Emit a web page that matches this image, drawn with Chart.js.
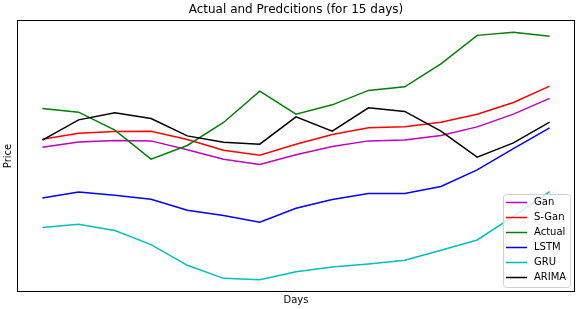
<!DOCTYPE html>
<html>
<head>
<meta charset="utf-8">
<script src="https://cdn.jsdelivr.net/npm/chart.js@4/dist/chart.umd.min.js"></script>
<style>
    html, body { margin: 0; padding: 0; background: #fff; }
    #wrap { width: 579px; height: 309px; }
</style>
</head>
<body>
<div id="wrap"><canvas id="chart" width="579" height="309"></canvas></div>
<script>
const days = [1, 2, 3, 4, 5, 6, 7, 8, 9, 10, 11, 12, 13, 14, 15];
const gan = [153, 158.3, 159.7, 159.3, 150.5, 141, 135.7, 145.5, 153.7, 159.3, 160.3, 164.7, 173.3, 186, 201.7];
const sGan = [161, 167, 168.7, 169, 160.7, 150, 145, 156, 165.7, 172.3, 173.3, 178, 186, 197.7, 214];
const actual = [191.7, 188, 170, 141, 154.7, 177.7, 209, 186, 195.3, 209.7, 213.3, 236.3, 264.7, 267.7, 263.7];
const lstm = [102.3, 108.3, 105, 101, 90, 84.7, 78, 92, 100.7, 106.7, 106.7, 113.7, 130.3, 151.5, 172.3];
const gru = [72.7, 76, 69.7, 55.7, 35, 22, 20.7, 28.5, 33.3, 36.3, 40, 50, 60.3, 84, 108.7];
const arima = [160, 180.3, 187.3, 181.7, 164.3, 158, 156, 183.3, 169, 192.3, 188.7, 169, 143, 157.3, 178];

const seriesNames = ['Gan', 'S-Gan', 'Actual', 'LSTM', 'GRU', 'ARIMA'];
const seriesValues = [gan, sGan, actual, lstm, gru, arima];
const seriesColors = ['#bf00bf', '#ff0000', '#008000', '#0000ff', '#00bfbf', '#000000'];

const FONT = '"DejaVu Sans", sans-serif';

// matplotlib-style 5% auto margins
const all = seriesValues.flat();
const yLo = Math.min(...all), yHi = Math.max(...all);
const yPad = (yHi - yLo) * 0.05;
const xPad = (days[days.length - 1] - days[0]) * 0.05;

const datasets = seriesNames.map((name, i) => ({
    label: name,
    data: days.map((d, j) => ({ x: d, y: seriesValues[i][j] })),
    borderColor: seriesColors[i],
    backgroundColor: seriesColors[i],
    borderWidth: 1.5,
    pointRadius: 0,
    tension: 0,
    order: seriesNames.length - i,
}));

const decor = {
    id: 'decor',
    afterDraw(chart) {
        const { ctx, chartArea: a } = chart;
        ctx.save();
        // axes frame
        ctx.strokeStyle = '#000';
        ctx.lineWidth = 1;
        ctx.strokeRect(a.left + 0.5, a.top + 0.5, a.right - a.left - 1, a.bottom - a.top - 1);

        // title + axis labels
        ctx.fillStyle = '#000';
        ctx.textAlign = 'center';
        ctx.textBaseline = 'middle';
        ctx.font = '12px ' + FONT;
        ctx.fillText('Actual and Predcitions (for 15 days)', (a.left + a.right) / 2, 10);
        ctx.font = '10px ' + FONT;
        ctx.fillText('Days', (a.left + a.right) / 2, 300);
        ctx.save();
        ctx.translate(8, (a.top + a.bottom) / 2);
        ctx.rotate(-Math.PI / 2);
        ctx.fillText('Price', 0, 0);
        ctx.restore();

        // legend, lower right
        const bx = 503, by = 194, bw = 67, bh = 93, r = 3;
        ctx.beginPath();
        ctx.roundRect(bx + 0.5, by + 0.5, bw, bh, r);
        ctx.fillStyle = 'rgba(255,255,255,0.8)';
        ctx.fill();
        ctx.strokeStyle = '#d0d0d0';
        ctx.stroke();
        ctx.textAlign = 'left';
        ctx.font = '10px ' + FONT;
        seriesNames.forEach((name, i) => {
            const yy = 202.5 + i * 15;
            ctx.beginPath();
            ctx.moveTo(506, yy);
            ctx.lineTo(527, yy);
            ctx.strokeStyle = seriesColors[i];
            ctx.lineWidth = 1.5;
            ctx.stroke();
            ctx.fillStyle = '#000';
            ctx.fillText(name, 534, yy);
        });
        ctx.restore();
    },
};

new Chart(document.getElementById('chart'), {
    type: 'line',
    data: { datasets },
    options: {
        responsive: false,
        animation: false,
        layout: { padding: { left: 17, top: 20, right: 4, bottom: 17 } },
        plugins: {
            legend: { display: false },
            tooltip: { enabled: false },
        },
        scales: {
            x: { type: 'linear', min: days[0] - xPad, max: days[days.length - 1] + xPad, display: false },
            y: { min: yLo - yPad, max: yHi + yPad, display: false },
        },
    },
    plugins: [decor],
});
</script>
</body>
</html>
